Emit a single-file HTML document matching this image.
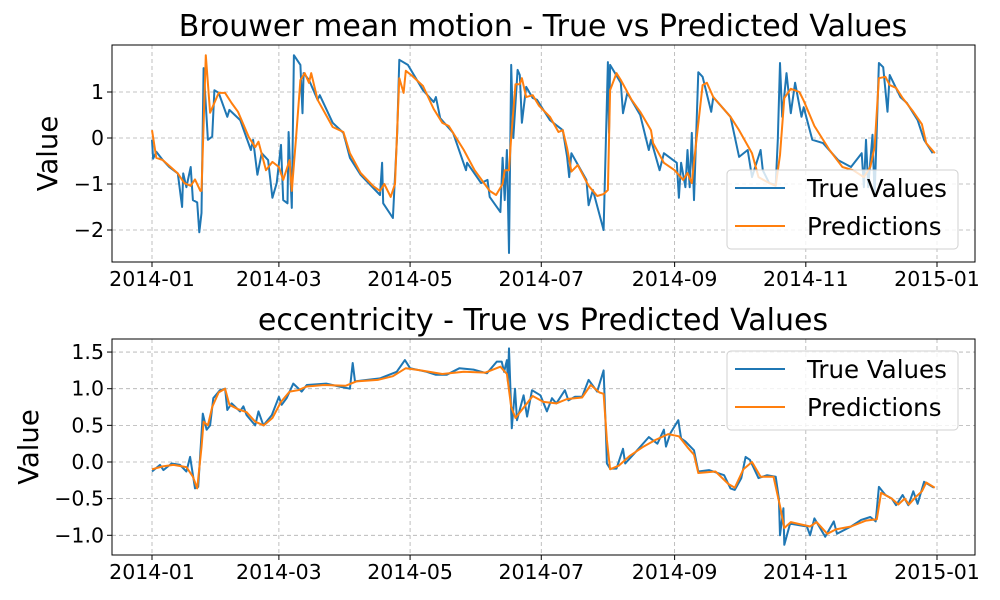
<!DOCTYPE html>
<html><head><meta charset="utf-8">
<style>
body{margin:0;background:#fff;}
svg{display:block;font-family:"DejaVu Sans","Liberation Sans",sans-serif;}
</style></head>
<body>
<svg id="chart" width="1000" height="600" viewBox="0 0 1000 600"></svg>
<script>
// ---- data (day of year 2014, value) ----
const xTickLabels = ["2014-01","2014-03","2014-05","2014-07","2014-09","2014-11","2015-01"];
const xTickDays = [0,59,120,181,243,304,365];
const topYTicks = [1,0,-1,-2];
const topYTickLabels = ["1","0","\u22121","\u22122"];
const botYTicks = [1.5,1.0,0.5,0.0,-0.5,-1.0];
const botYTickLabels = ["1.5","1.0","0.5","0.0","\u22120.5","\u22121.0"];

const topTrueDays = [0,0.5,2,5,8,12,14,14.5,16,18,19,21,22,23,24,26,28,29,31,35,36,41,46,47,49,51,54,56,58,60,61,63,63.5,65,66,69,70,70.5,73,77,78,84,89,92,97,106,107,107.5,112,114,115,119,126,131,132,134,140,146,146.5,153,156,157,162,163,164,165,166,167,168,170,171,172,174,177,179,185,191,193,194,195,202,203,205,210,212,212.5,213,218,219,221,227,231,232,236,238,244,245,246,248,249,250,251,252,254,256,260,261,269,273,277,279,283,284,287,290,291,292,293,295,297,299,302,303,307,312,319,325,330,331,332,333,335,336,338,340,342,343,348,351,356,359,363];
const topTrueVals = [-0.04,-0.45,-0.3,-0.48,-0.63,-0.77,-1.5,-0.77,-1.07,-0.63,-1.35,-1.4,-2.05,-1.63,1.52,-0.04,0.03,1.04,0.98,0.46,0.61,0.39,-0.26,-0.04,-0.8,-0.33,-0.48,-1.3,-0.98,-0.15,-1.35,-1.42,0.13,-1.52,1.8,1.59,0.54,1.41,1.26,0.83,0.93,0.33,0.11,-0.43,-0.8,-1.24,-0.54,-1.42,-1.74,0.11,1.7,1.59,1.04,0.78,0.89,0.43,0.11,-0.7,-0.54,-0.98,-0.91,-1.28,-1.61,-0.43,-1.35,-0.26,-2.5,1.59,0,1.48,1.37,0.33,1.11,0.87,0.83,0.39,0.17,-0.41,-0.85,-0.33,-0.91,-1.46,-1.13,-2.0,1.65,0.11,1.59,1.2,0.54,0.98,0.5,-0.26,-0.04,-0.7,-0.33,-0.54,-1.3,-0.54,-1.07,-0.26,-1.07,0.11,-1.35,1.43,1.33,0.57,0.89,0.46,-0.41,-0.26,-0.85,-0.26,-0.7,-0.98,-1.02,-0.04,1.63,0.46,1.41,0.54,1.2,0.46,0.67,-0.04,-0.11,-0.48,-0.63,-0.33,-1.07,-0.04,-1.07,0.07,-1.28,1.63,1.54,0.57,1.37,0.89,0.76,0.39,-0.04,-0.33];

const topPredDays = [0,2,5,12,15,18,20,22.5,23,25,27,31,34,37,40,45,48,49.5,53,56,59,61,64,65,67,69,71,73,74,77,84,89,92,97,103,106,108,111,113,115,117,118,121,126,131,135,138,145,150,157,160,163,164,166,167,169,171,172,174,177,180,185,189,191,193,195,198,203,207,210,212,213,216,218,223,227,232,233,238,243,247,249,251,253,256,258,261,269,273,279,282,287,290,292,294,297,301,303,308,315,321,326,331,334,336,338,341,343,346,349,354,358,360,364];
const topPredVals = [0.17,-0.43,-0.48,-0.77,-0.98,-1.04,-0.9,-1.15,-1.15,1.8,0.55,0.98,0.98,0.76,0.57,0.02,-0.2,-0.08,-0.7,-0.52,-0.63,-0.91,-0.48,-1.15,0.02,1.26,1.41,1.2,1.41,0.83,0.24,0.13,-0.33,-0.76,-1.05,-1.15,-1.0,-1.28,-1.0,1.3,0.98,1.46,1.35,1.13,0.63,0.33,0.26,-0.26,-0.7,-1.15,-1.24,-1.0,-0.7,-0.7,0.02,1.17,1.17,1.3,0.89,0.93,0.7,0.46,0.13,0.17,-0.22,-0.73,-0.59,-1.04,-1.26,-1.22,-1.13,1.04,1.41,1.26,0.83,0.57,0.17,-0.11,-0.54,-0.7,-0.91,-0.76,-0.98,-0.11,1.15,1.2,0.89,0.46,0.17,-0.33,-0.85,-0.98,-1.04,-0.37,0.87,1.07,1.0,0.81,0.26,-0.26,-0.63,-0.7,-0.85,-0.63,-0.2,1.3,1.33,1.15,1.09,0.87,0.57,0.3,-0.11,-0.33];

const botTrueDays = [0,3.7,5.3,9.1,13,16,17.7,20,21.5,23.6,25.4,27,28.5,31.6,34,35,37,40.9,42.5,44,48,49.5,51.8,55.7,59,60.3,62.6,65.7,69.6,72,81,87,92,93.3,94.4,100,106,113.8,117.6,120,127.7,132,137,143,149.5,155.7,160.3,162.6,163.7,165,165.5,166,167.3,168.8,169.7,172.8,174.4,176.7,180.6,183.6,186,188,192,193.6,196.7,200,203,207,210,211,211.5,213,216,219,220,225,231,235,238,239,241,244.7,246,248,252,254,259,266,269,271,274,276,278,282,286,290,291.5,292,293.6,294,296.7,304.5,306,308,313,317,318.5,325,329.7,334,336.5,338,341,344,346,349,351.7,354,356,359,363.5];
const botTrueVals = [-0.13,-0.04,-0.11,-0.02,-0.04,-0.13,0.07,-0.36,-0.34,0.66,0.44,0.5,0.87,0.98,1.0,0.71,0.8,0.69,0.76,0.64,0.5,0.69,0.5,0.64,0.89,0.78,0.87,1.07,0.96,1.05,1.07,1.03,1.0,1.35,1.1,1.12,1.14,1.23,1.39,1.28,1.23,1.19,1.19,1.28,1.26,1.21,1.37,1.37,1.23,1.39,1.1,1.55,0.46,1.0,0.57,0.91,0.62,0.98,0.91,0.69,0.87,0.8,0.98,0.84,0.89,0.89,1.12,0.96,1.25,0.44,-0.02,-0.09,-0.09,0.18,-0.02,0.14,0.34,0.25,0.44,0.21,0.39,0.57,0.32,0.28,0.16,-0.13,-0.11,-0.18,-0.36,-0.38,-0.22,0.07,0.03,-0.22,-0.18,-0.2,-0.5,-1.0,-0.63,-1.13,-0.84,-0.88,-1.0,-0.77,-1.02,-0.81,-0.98,-0.88,-0.79,-0.75,-0.81,-0.34,-0.45,-0.5,-0.59,-0.45,-0.59,-0.4,-0.57,-0.27,-0.35];

const botPredDays = [0,5,10,16,19,21,23,24,26,28,31,34,36,40,44,48,52,56,60,64,68,72,80,90,95,105,112,118,125,135,145,155,162,165,167,169,173,177,182,188,193,200,204,208,210,211.5,213,217,222,228,234,240,245,249,252,254,262,268,271,275,279,283,289,292,294,297,306,309,314,318,325,332,337,339,344,347,350,352,355,358,360,364];
const botPredVals = [-0.1,-0.06,-0.04,-0.07,-0.2,-0.36,0.2,0.55,0.5,0.75,0.95,1.0,0.78,0.72,0.68,0.55,0.5,0.6,0.82,0.96,0.98,1.03,1.05,1.04,1.1,1.12,1.17,1.28,1.25,1.2,1.23,1.22,1.3,1.2,0.75,0.6,0.75,0.9,0.82,0.8,0.86,0.88,1.05,0.95,0.93,0.3,-0.1,-0.05,0.08,0.2,0.3,0.38,0.35,0.2,0.1,-0.15,-0.13,-0.3,-0.35,-0.1,0.0,-0.2,-0.2,-0.6,-0.9,-0.82,-0.88,-0.82,-0.98,-0.92,-0.88,-0.8,-0.78,-0.42,-0.5,-0.58,-0.5,-0.58,-0.48,-0.4,-0.28,-0.35];

const NS = "http://www.w3.org/2000/svg";
const svg = document.getElementById("chart");
function mk(tag, attrs, parent){
  const e = document.createElementNS(NS, tag);
  for (const k in attrs) e.setAttribute(k, attrs[k]);
  (parent||svg).appendChild(e);
  return e;
}
const X0 = 112, X1 = 975;
function xScale(d){ return 152 + d * (785/365); }

function panel(cfg){
  const g = mk("g", {});
  
  
  const yScale = v => cfg.y0 - v * cfg.k;
  xTickDays.forEach(d=>{
    const l = mk("line",{x1:xScale(d),x2:xScale(d),y1:cfg.top,y2:cfg.bot,stroke:"#b0b0b0","stroke-width":0.8,"stroke-dasharray":"4,3"},g);
    
    
  });
  cfg.yt.forEach(v=>{
    const l = mk("line",{x1:X0,x2:X1,y1:yScale(v),y2:yScale(v),stroke:"#b0b0b0","stroke-width":0.8,"stroke-dasharray":"4,3"},g);
    
    
  });
  function line(days, vals, color, nm){
    const p = days.map((d,i)=>xScale(d).toFixed(1)+","+yScale(vals[i]).toFixed(1)).join(" ");
    const pl = mk("polyline",{points:p,fill:"none",stroke:color,"stroke-width":2,"stroke-linejoin":"round"},g);
    
    
  }
  line(cfg.td, cfg.tv, "#1f77b4", "true-values-line");
  line(cfg.pd, cfg.pv, "#ff7f0e", "predictions-line");
  const fr = mk("rect",{x:X0,y:cfg.top,width:X1-X0,height:cfg.bot-cfg.top,fill:"none",stroke:"#000","stroke-width":1},g);
  
  
  xTickDays.forEach((d,i)=>{
    mk("line",{x1:xScale(d),x2:xScale(d),y1:cfg.bot,y2:cfg.bot+5,stroke:"#000"},g);
    const t = mk("text",{x:xScale(d),y:cfg.bot+24,"text-anchor":"middle","font-size":20.5},g);
    t.textContent = xTickLabels[i];
    
    
  });
  cfg.yt.forEach((v,i)=>{
    mk("line",{x1:X0-5,x2:X0,y1:yScale(v),y2:yScale(v),stroke:"#000"},g);
    const t = mk("text",{x:X0-8,y:yScale(v)+7,"text-anchor":"end","font-size":20.5},g);
    t.textContent = cfg.ytl[i];
    
    
  });
  const tt = mk("text",{x:543,y:cfg.top-9,"text-anchor":"middle","font-size":30},g);
  tt.textContent = cfg.title;
  
  
  const cy = (cfg.top+cfg.bot)/2;
  const yl = mk("text",{x:cfg.ylx,y:cy,"text-anchor":"middle","font-size":27.5,transform:`rotate(-90 ${cfg.ylx} ${cy})`},g);
  yl.textContent = "Value";
  
  
  const lg = mk("g",{},g);
  
  
  mk("rect",{x:727,y:cfg.ly,width:231,height:79,rx:4,fill:"#fff","fill-opacity":0.8,stroke:"#d0d0d0"},lg);
  [["True Values","#1f77b4"],["Predictions","#ff7f0e"]].forEach((e,i)=>{
    const yy = cfg.ly+18+i*38;
    mk("line",{x1:735,x2:785,y1:yy,y2:yy,stroke:e[1],"stroke-width":2},lg);
    const t = mk("text",{x:807,y:yy+9,"font-size":24.5},lg);
    t.textContent = e[0];
    
    
  });
}
panel({name:"brouwer-mean-motion-panel",top:45,bot:262,y0:138,k:46,yt:topYTicks,ytl:topYTickLabels,
  td:topTrueDays,tv:topTrueVals,pd:topPredDays,pv:topPredVals,title:"Brouwer mean motion - True vs Predicted Values",ylx:57,ly:170});
panel({name:"eccentricity-panel",top:339,bot:555,y0:462,k:73.3,yt:botYTicks,ytl:botYTickLabels,
  td:botTrueDays,tv:botTrueVals,pd:botPredDays,pv:botPredVals,title:"eccentricity - True vs Predicted Values",ylx:38,ly:351});
</script>
</body></html>
